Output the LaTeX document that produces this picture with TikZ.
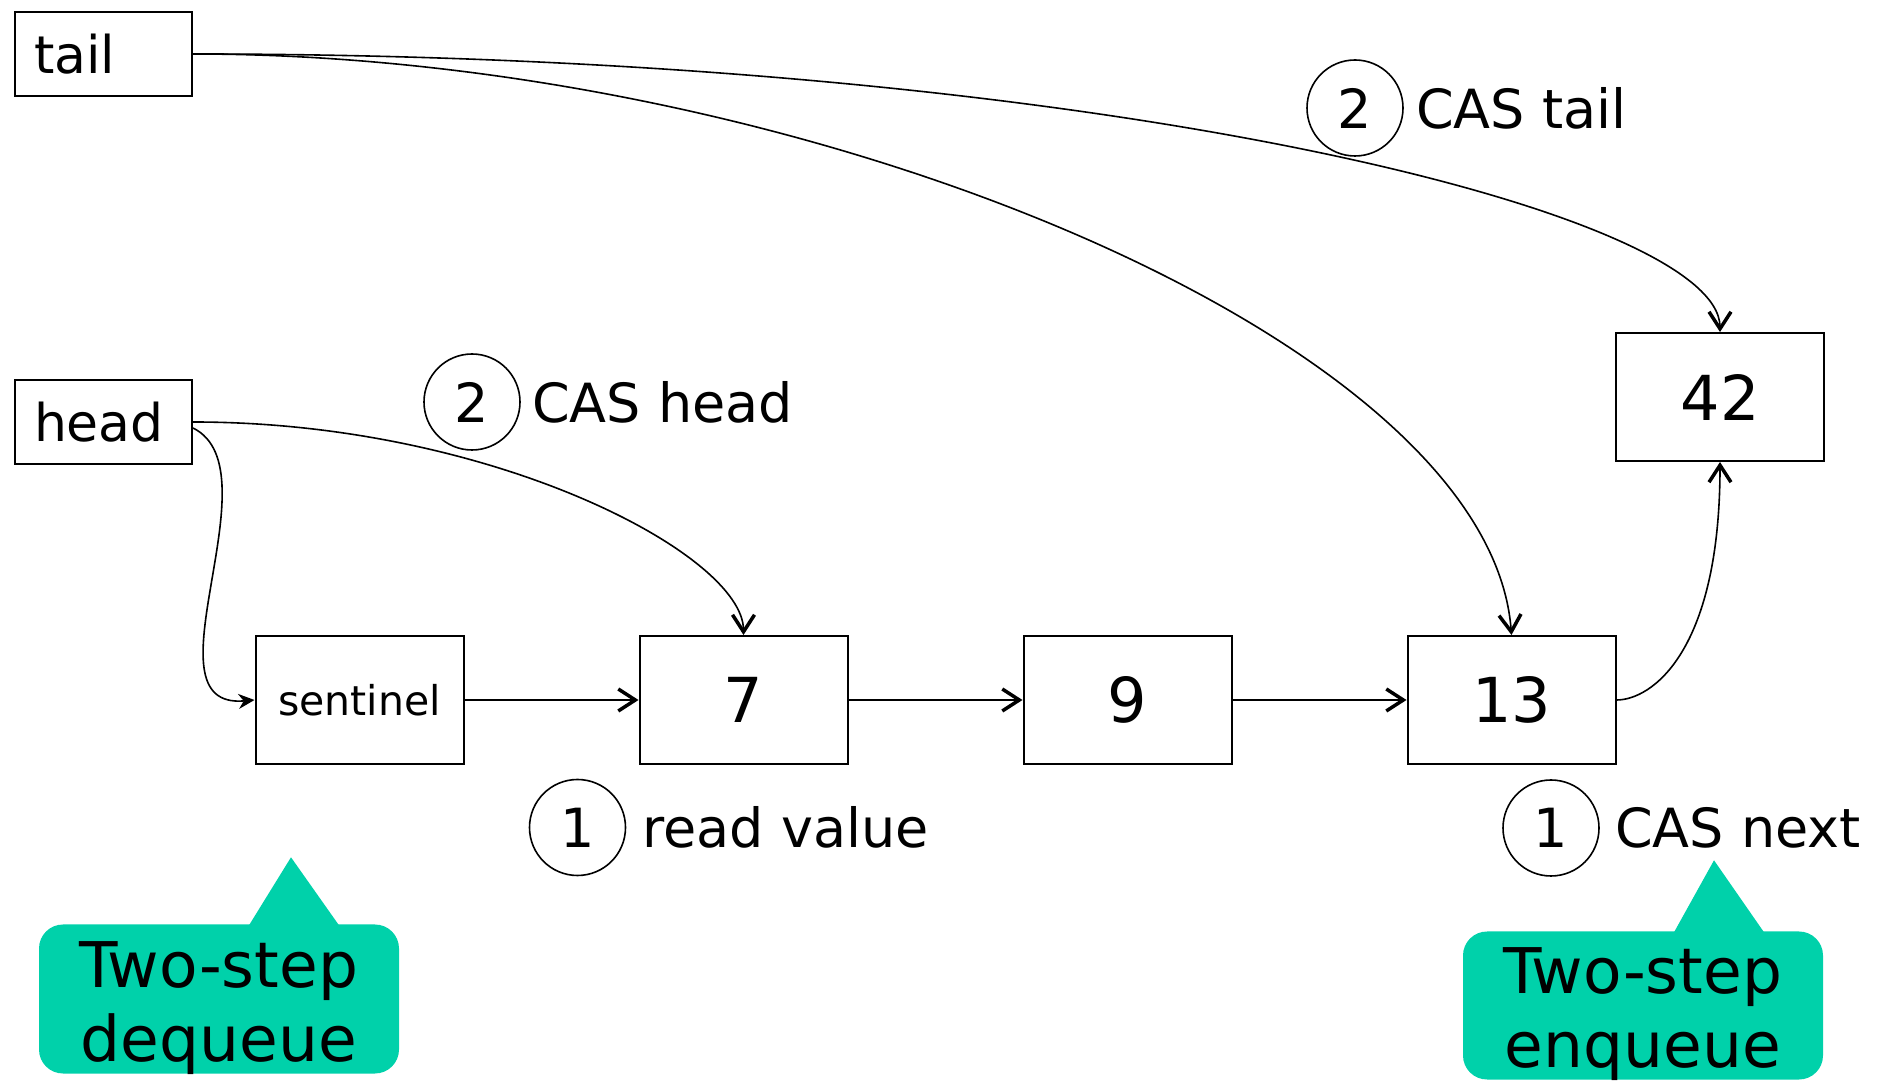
\documentclass[tikz,border=0pt]{standalone}
\usepackage{fontspec}
\setmainfont{DejaVu Sans}
\usetikzlibrary{positioning,arrows.meta}
\definecolor{calloutgreen}{RGB}{0,209,170}

\begin{document}
\begin{tikzpicture}[
  x=1pt, y=1pt,
  cell/.style={rectangle, draw, line width=2pt, minimum width=208pt, minimum height=128pt, font=\fontsize{62}{74}\selectfont},
  ptr/.style={rectangle, draw, line width=2pt, minimum height=84pt, text width=139pt, inner xsep=19pt, align=left, font=\fontsize{52}{62}\selectfont},
  num/.style={circle, draw, line width=1.6pt, minimum size=96pt, inner sep=0pt, font=\fontsize{54}{64}\selectfont},
  note/.style={inner sep=0pt, font=\fontsize{54}{64}\selectfont},
  bubblebox/.style={rectangle, fill=calloutgreen, rounded corners=24pt, minimum width=360pt, minimum height=149pt},
  bubble/.style={inner sep=0pt, align=center, font=\fontsize{63}{74}\selectfont},
  link/.style={line width=1.6pt, -{Straight Barb[length=17pt,width=22pt,line width=3.5pt]}},
  node distance=384pt
]
\useasboundingbox (0,0) rectangle (1887,1087);

\node[ptr] (tail) at (103.5,1033) {tail};
\node[ptr] (head) at (103.5,665) {head};

\node[cell, font=\fontsize{41}{50}\selectfont] (sentinel) at (359.5,387) {sentinel};
\node[cell, right of=sentinel] (n7) {7};
\node[cell, right of=n7] (n9) {9};
\node[cell, right of=n9] (n13) {13};
\node[cell] (n42) at (1720,690) {42};

\node[num] (c2h) at (472,685) {2};
\node[note, right=11pt of c2h] (cashead) {CAS head};
\node[num] (c2t) at (1355,979) {2};
\node[note, right=12pt of c2t] (castail) {CAS tail};
\node[num] (c1r) at (577.5,259.5) {1};
\node[note, right=16pt of c1r] (readval) {read value};
\node[num] (c1n) at (1551,259) {1};
\node[note, right=15pt of c1n] (casnext) {CAS next};

\node[bubblebox] (deq) at (219,88) {};
\fill[calloutgreen] ([xshift=30pt,yshift=-1pt]deq.north) -- ([xshift=72pt,yshift=67pt]deq.north) -- ([xshift=120pt,yshift=-1pt]deq.north) -- cycle;
\node[bubble, below=17pt of deq.north] (deqtext) {Two-step\\dequeue};

\node[bubblebox, minimum height=148pt] (enq) at (1643,81.5) {};
\fill[calloutgreen] ([xshift=31pt,yshift=-1pt]enq.north) -- ([xshift=71pt,yshift=71pt]enq.north) -- ([xshift=121pt,yshift=-1pt]enq.north) -- cycle;
\node[bubble, below=16.5pt of enq.north] (enqtext) {Two-step\\enqueue};

\draw[link] (tail.east) .. controls +(900,0) and +(0,120) .. (n42.north);
\draw[link] (tail.east) .. controls +(609,0) and +(-22,296) .. (n13.north);
\draw[link] (head.east) .. controls +(300,0) and +(0,80) .. (n7.north);
\draw[line width=1.6pt, -{Stealth[length=16pt,width=15pt]}] ([yshift=-6pt]head.east) .. controls +(85,-42) and +(-115,-10) .. (sentinel.west);
\draw[link] (sentinel) -- (n7);
\draw[link] (n7) -- (n9);
\draw[link] (n9) -- (n13);
\draw[link] (n13.east) .. controls +(35,0) and +(0,-190) .. (n42.south);
\end{tikzpicture}
\end{document}
